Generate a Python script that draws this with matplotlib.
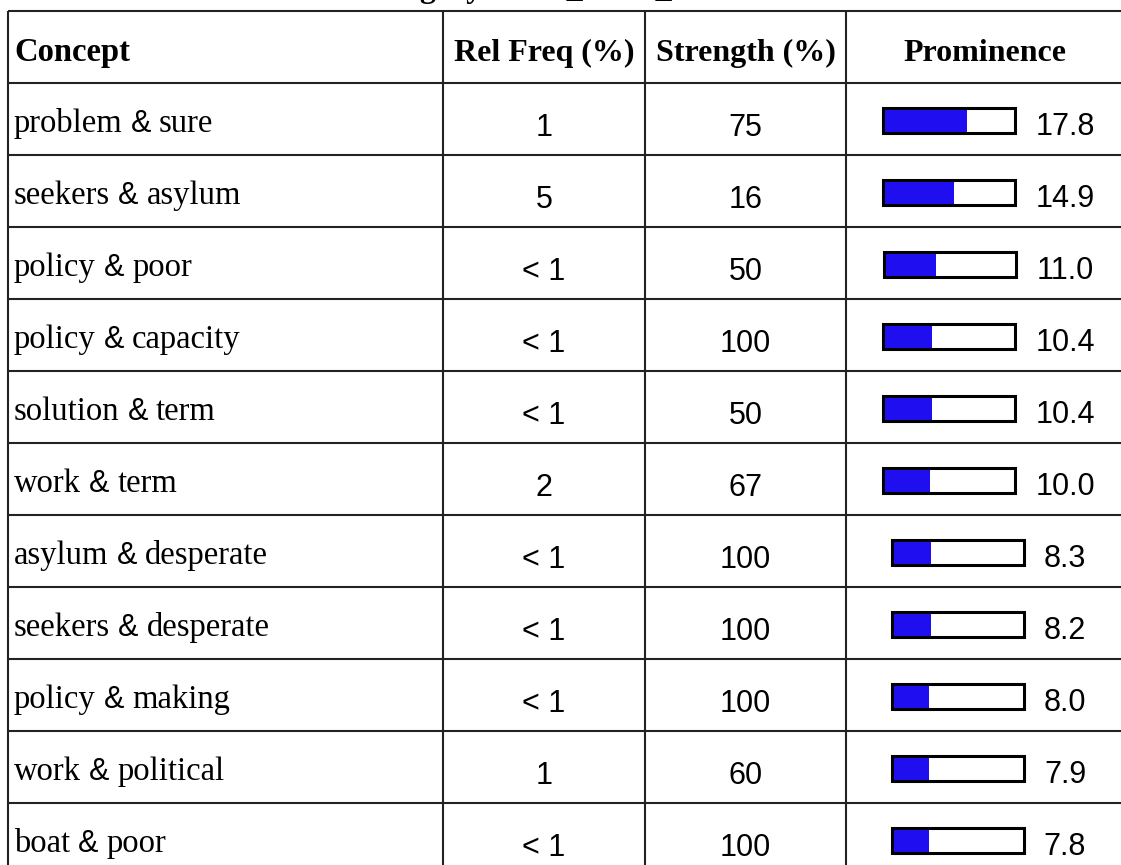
import matplotlib.pyplot as plt

title = "Category: ABC_News_Items"
headers = ["Concept", "Rel Freq (%)", "Strength (%)", "Prominence"]
concepts = [("problem", "sure"), ("seekers", "asylum"), ("policy", "poor"),
            ("policy", "capacity"), ("solution", "term"), ("work", "term"),
            ("asylum", "desperate"), ("seekers", "desperate"), ("policy", "making"),
            ("work", "political"), ("boat", "poor")]
rel_freq = ["1", "5", "< 1", "< 1", "< 1", "2", "< 1", "< 1", "< 1", "1", "< 1"]
strength = [75, 16, 50, 100, 50, 67, 100, 100, 100, 60, 100]
prominence = [17.8, 14.9, 11.0, 10.4, 10.4, 10.0, 8.3, 8.2, 8.0, 7.9, 7.8]

# layout in pixels
W, H = 1121, 865
top, head_h, row_h = 11, 72, 72
col_x = [8, 443, 645, 846, 1126]
box_w, box_h = 132, 25
px_per_unit = box_w / 28.0
serif = "Liberation Serif"
sans = "Liberation Sans"
fs_head, fs_serif, fs_sans = 23, 23.5, 22
line_c = "#222222"

fig = plt.figure(figsize=(W / 100, H / 100), dpi=100)
ax = fig.add_axes([0, 0, 1, 1])
ax.set_xlim(0, W)
ax.set_ylim(H, 0)
ax.axis("off")
renderer = fig.canvas.get_renderer()

def text_w(t):
    return t.get_window_extent(renderer).width

# title, mostly above the visible area (cut off as in the original)
ax.text(356, -3, title, family=serif, weight="bold", fontsize=fs_head,
        ha="left", va="baseline")

# grid
n = len(concepts)
bottom = top + head_h + row_h * n
for i in range(n + 2):
    y = top if i == 0 else top + head_h + row_h * (i - 1)
    ax.plot([col_x[0], col_x[-1]], [y, y], color=line_c, lw=1.5,
            solid_capstyle="butt")
for x in col_x:
    ax.plot([x, x], [top, bottom], color=line_c, lw=1.5, solid_capstyle="butt")

# header
hb = top + 50
ax.text(14, hb, headers[0], family=serif, weight="bold", fontsize=fs_head + 0.5,
        va="baseline")
for j in range(1, 4):
    cx = (col_x[j] + col_x[j + 1]) / 2
    if j == 3:
        cx = 985
    ax.text(cx, hb, headers[j], family=serif, weight="bold", fontsize=fs_head,
            ha="center", va="baseline")

row_tops = [top + head_h + row_h * i for i in range(n)]

for i, (w1, w2) in enumerate(concepts):
    rt = row_tops[i]
    # concept, with a sans ampersand
    x = 14
    t = ax.text(x, rt + 49, w1, family=serif, fontsize=fs_serif, va="baseline")
    x += text_w(t) + 8
    t = ax.text(x, rt + 49, "&", family=sans, fontsize=fs_sans,
                va="baseline")
    x += text_w(t) + 8
    ax.text(x, rt + 49, w2, family=serif, fontsize=fs_serif, va="baseline")

    ax.text((col_x[1] + col_x[2]) / 2, rt + 53, rel_freq[i], family=sans,
            fontsize=fs_sans, ha="center", va="baseline")
    ax.text((col_x[2] + col_x[3]) / 2, rt + 53, str(strength[i]), family=sans,
            fontsize=fs_sans, ha="center", va="baseline")

# prominence bars, group (box + value) centred in column
group_c = 989
for i, v in enumerate(prominence):
    rt = row_tops[i]
    t = ax.text(0, rt + 52, f"{v:.1f}", family=sans, fontsize=fs_sans,
                va="baseline")
    tw = text_w(t)
    left = group_c - (box_w + 20 + tw) / 2
    t.set_x(left + box_w + 20)
    yc = rt + 25 + box_h / 2
    ax.barh(yc, v * px_per_unit, left=left, height=box_h, color="#1f0ff0",
            edgecolor="none")
    ax.barh(yc, box_w, left=left, height=box_h, color="none",
            edgecolor="black", lw=2.2)

fig.savefig("out.png", dpi=100)
